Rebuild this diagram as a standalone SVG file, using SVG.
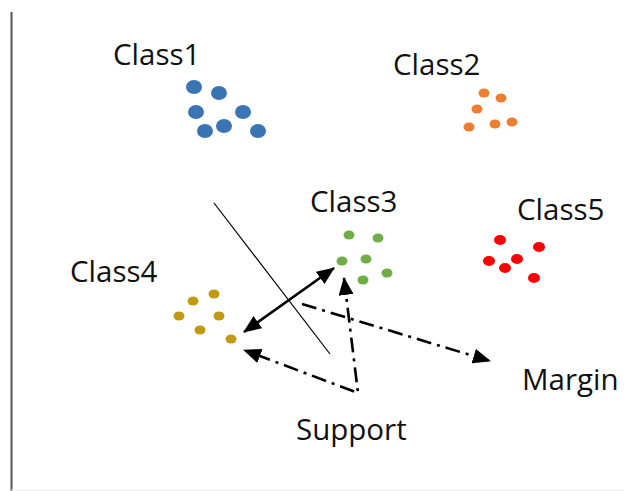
<svg xmlns="http://www.w3.org/2000/svg" width="624" height="491" viewBox="0 0 624 491">
  <style>
    .lbl { font-family: "Open Sans", "Liberation Sans", sans-serif; font-size: 29.5px; fill: #111; }
    .c1 { fill: #3a74b2; }
    .c2 { fill: #ed7d31; }
    .c3 { fill: #70ad47; }
    .c4 { fill: #c09a10; }
    .c5 { fill: #ff0000; }
    .dd { fill: none; stroke: #000; stroke-width: 2.6; stroke-dasharray: 15 6 3 6; }
    .solid { fill: none; stroke: #000; stroke-width: 2.6; }
  </style>
  <defs>
    <marker id="ah" viewBox="0 0 18 15" refX="17" refY="7.5" markerWidth="18" markerHeight="15" markerUnits="userSpaceOnUse" orient="auto-start-reverse">
      <path d="M0,0 L18,7.5 L0,15 Z" fill="#000"/>
    </marker>
  </defs>
  <rect width="624" height="491" fill="#fff"/>
  <g id="axes">
    <line x1="11.5" y1="12" x2="11.5" y2="491" stroke="#555" stroke-width="2"/>
    <line x1="11" y1="490" x2="624" y2="490" stroke="#ececec" stroke-width="1"/>
  </g>
  <g id="class1">
    <text class="lbl" x="113" y="65">Class1</text>
    <ellipse class="c1" cx="194" cy="87" rx="8" ry="7"/>
    <ellipse class="c1" cx="219" cy="93" rx="8" ry="7"/>
    <ellipse class="c1" cx="196" cy="112" rx="8" ry="7"/>
    <ellipse class="c1" cx="243" cy="112" rx="8" ry="7"/>
    <ellipse class="c1" cx="205" cy="131" rx="8" ry="7"/>
    <ellipse class="c1" cx="224" cy="126" rx="8" ry="7"/>
    <ellipse class="c1" cx="258" cy="131" rx="8" ry="7"/>
  </g>
  <g id="class2">
    <text class="lbl" x="393" y="75">Class2</text>
    <ellipse class="c2" cx="484" cy="93" rx="5.5" ry="4.5"/>
    <ellipse class="c2" cx="501" cy="98" rx="5.5" ry="4.5"/>
    <ellipse class="c2" cx="477" cy="109" rx="5.5" ry="4.5"/>
    <ellipse class="c2" cx="469" cy="127" rx="5.5" ry="4.5"/>
    <ellipse class="c2" cx="495" cy="124" rx="5.5" ry="4.5"/>
    <ellipse class="c2" cx="512" cy="122" rx="5.5" ry="4.5"/>
  </g>
  <g id="class3">
    <text class="lbl" x="310" y="212">Class3</text>
    <ellipse class="c3" cx="349" cy="235" rx="5.5" ry="4.5"/>
    <ellipse class="c3" cx="378" cy="238" rx="5.5" ry="4.5"/>
    <ellipse class="c3" cx="342" cy="261" rx="5.5" ry="4.5"/>
    <ellipse class="c3" cx="366" cy="259" rx="5.5" ry="4.5"/>
    <ellipse class="c3" cx="363" cy="280" rx="5.5" ry="4.5"/>
    <ellipse class="c3" cx="387" cy="273" rx="5.5" ry="4.5"/>
  </g>
  <g id="class4">
    <text class="lbl" x="70" y="282">Class4</text>
    <ellipse class="c4" cx="214" cy="294" rx="5.5" ry="4.5"/>
    <ellipse class="c4" cx="193" cy="301" rx="5.5" ry="4.5"/>
    <ellipse class="c4" cx="179" cy="316" rx="5.5" ry="4.5"/>
    <ellipse class="c4" cx="219" cy="316" rx="5.5" ry="4.5"/>
    <ellipse class="c4" cx="200" cy="330" rx="5.5" ry="4.5"/>
    <ellipse class="c4" cx="231" cy="339" rx="5.5" ry="4.5"/>
  </g>
  <g id="class5">
    <text class="lbl" x="517" y="220">Class5</text>
    <ellipse class="c5" cx="500" cy="240" rx="6" ry="5"/>
    <ellipse class="c5" cx="539" cy="247" rx="6" ry="5"/>
    <ellipse class="c5" cx="489" cy="261" rx="6" ry="5"/>
    <ellipse class="c5" cx="517" cy="259" rx="6" ry="5"/>
    <ellipse class="c5" cx="505" cy="268" rx="6" ry="5"/>
    <ellipse class="c5" cx="534" cy="278" rx="6" ry="5"/>
  </g>
  <g id="margin">
    <text class="lbl" x="522" y="390">Margin</text>
  </g>
  <g id="support">
    <text class="lbl" x="296" y="440">Support</text>
  </g>
  <g id="connectors">
    <line x1="214" y1="203" x2="330" y2="354" stroke="#000" stroke-width="1.2"/>
    <line class="solid" x1="244" y1="332" x2="334" y2="268" marker-start="url(#ah)" marker-end="url(#ah)"/>
    <line class="dd" x1="302" y1="304" x2="490" y2="361" marker-end="url(#ah)"/>
    <polyline class="dd" points="344,278 358,393 244,350" marker-start="url(#ah)" marker-end="url(#ah)"/>
  </g>
</svg>
